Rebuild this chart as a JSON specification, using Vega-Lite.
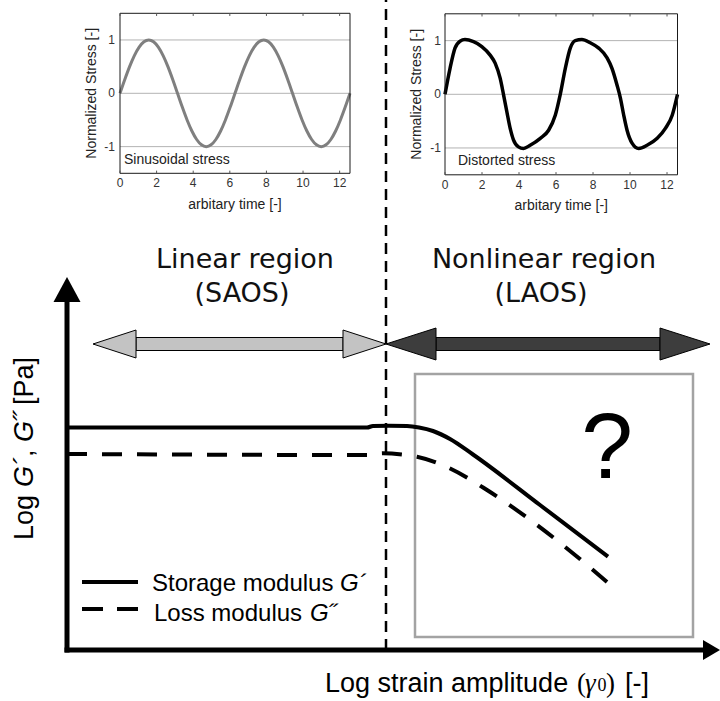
{
"$schema": "https://vega.github.io/schema/vega-lite/v6.json",
"width": 720, "height": 701, "padding": 0, "autosize": {"type": "none"},
"background": "#ffffff",
"config": {"view": {"stroke": null}},
"datasets": {
"sine": [
{"t":0,"s":0},{"t":0.262,"s":0.259},{"t":0.524,"s":0.5},{"t":0.785,"s":0.707},{"t":1.047,"s":0.866},{"t":1.309,"s":0.966},{"t":1.571,"s":1},{"t":1.833,"s":0.966},{"t":2.094,"s":0.866},{"t":2.356,"s":0.707},{"t":2.618,"s":0.5},{"t":2.88,"s":0.259},{"t":3.142,"s":0},{"t":3.403,"s":-0.259},{"t":3.665,"s":-0.5},{"t":3.927,"s":-0.707},{"t":4.189,"s":-0.866},{"t":4.451,"s":-0.966},{"t":4.712,"s":-1},{"t":4.974,"s":-0.966},{"t":5.236,"s":-0.866},{"t":5.498,"s":-0.707},{"t":5.76,"s":-0.5},{"t":6.021,"s":-0.259},{"t":6.283,"s":0},{"t":6.545,"s":0.259},{"t":6.807,"s":0.5},{"t":7.069,"s":0.707},{"t":7.33,"s":0.866},{"t":7.592,"s":0.966},{"t":7.854,"s":1},{"t":8.116,"s":0.966},{"t":8.378,"s":0.866},{"t":8.639,"s":0.707},{"t":8.901,"s":0.5},{"t":9.163,"s":0.259},{"t":9.425,"s":0},{"t":9.687,"s":-0.259},{"t":9.948,"s":-0.5},{"t":10.21,"s":-0.707},{"t":10.472,"s":-0.866},{"t":10.734,"s":-0.966},{"t":10.996,"s":-1},{"t":11.257,"s":-0.966},{"t":11.519,"s":-0.866},{"t":11.781,"s":-0.707},{"t":12.043,"s":-0.5},{"t":12.305,"s":-0.259},{"t":12.566,"s":0}
],
"distorted": [
{"t":0,"s":0},{"t":0.27,"s":0.48},{"t":0.54,"s":0.86},{"t":0.81,"s":0.99},{"t":1.08,"s":1.02},{"t":1.54,"s":0.98},{"t":1.99,"s":0.89},{"t":2.44,"s":0.73},{"t":2.71,"s":0.58},{"t":2.98,"s":0.3},{"t":3.16,"s":0},{"t":3.34,"s":-0.32},{"t":3.52,"s":-0.63},{"t":3.7,"s":-0.85},{"t":3.97,"s":-0.98},{"t":4.24,"s":-1.01},{"t":4.6,"s":-0.95},{"t":5.15,"s":-0.82},{"t":5.6,"s":-0.67},{"t":5.96,"s":-0.39},{"t":6.23,"s":0},{"t":6.5,"s":0.48},{"t":6.77,"s":0.86},{"t":7.04,"s":1.0},{"t":7.4,"s":1.02},{"t":7.85,"s":0.96},{"t":8.31,"s":0.86},{"t":8.76,"s":0.68},{"t":9.03,"s":0.48},{"t":9.3,"s":0.17},{"t":9.48,"s":-0.07},{"t":9.66,"s":-0.39},{"t":9.84,"s":-0.67},{"t":10.11,"s":-0.91},{"t":10.47,"s":-1.01},{"t":10.92,"s":-0.95},{"t":11.47,"s":-0.82},{"t":11.92,"s":-0.63},{"t":12.28,"s":-0.39},{"t":12.566,"s":0}
],
"xticks": [{"t":0,"label":"0"},{"t":2,"label":"2"},{"t":4,"label":"4"},{"t":6,"label":"6"},{"t":8,"label":"8"},{"t":10,"label":"10"},{"t":12,"label":"12"}],
"yticks": [{"s":-1,"label":"-1"},{"s":0,"label":"0"},{"s":1,"label":"1"}],
"moduli": [
{"modulus":"storage","x":0,"y":222.5},{"modulus":"storage","x":300,"y":222.5},{"modulus":"storage","x":306,"y":224},{"modulus":"storage","x":322,"y":224.3},{"modulus":"storage","x":340,"y":224},{"modulus":"storage","x":352,"y":222.5},{"modulus":"storage","x":366,"y":219},{"modulus":"storage","x":383,"y":211},{"modulus":"storage","x":406,"y":195.5},{"modulus":"storage","x":473,"y":145},{"modulus":"storage","x":541,"y":93.3},
{"modulus":"loss","x":0,"y":196},{"modulus":"loss","x":300,"y":195},{"modulus":"loss","x":316,"y":196.7},{"modulus":"loss","x":335,"y":195.5},{"modulus":"loss","x":350,"y":193.3},{"modulus":"loss","x":380,"y":183},{"modulus":"loss","x":420,"y":160},{"modulus":"loss","x":466,"y":128},{"modulus":"loss","x":526,"y":80},{"modulus":"loss","x":540,"y":68}
]
},
"resolve": {"scale": {"x": "independent", "y": "independent"}},
"layer": [
{
"layer": [
{"data":{"values":[{"x1":348,"x2":626,"y1":13,"y2":276}]},
 "mark":{"type":"rect","filled":false,"stroke":"#a3a3a3","strokeWidth":2.5},
 "encoding":{"x":{"field":"x1","type":"quantitative","scale":{"domain":[0,650],"range":[67,717],"nice":false,"zero":false},"axis":null},"x2":{"field":"x2"},
 "y":{"field":"y1","type":"quantitative","scale":{"domain":[0,650],"range":[650,0],"nice":false,"zero":false},"axis":null},"y2":{"field":"y2"}}},
{"data":{"values":[{"x":319,"y1":0,"y2":650}]},
 "mark":{"type":"rule","strokeDash":[11,7],"strokeWidth":2.5,"color":"#000000"},
 "encoding":{"x":{"field":"x","type":"quantitative","scale":{"domain":[0,650],"range":[67,717],"nice":false,"zero":false},"axis":null},
 "y":{"field":"y1","type":"quantitative","scale":{"domain":[0,650],"range":[650,0],"nice":false,"zero":false},"axis":null},"y2":{"field":"y2"}}},
{"data":{"name":"moduli"},"transform":[{"filter":"datum.modulus == 'storage'"}],
 "mark":{"type":"line","color":"#000000","strokeWidth":4,"interpolate":"monotone"},
 "encoding":{"x":{"field":"x","type":"quantitative","scale":{"domain":[0,650],"range":[67,717],"nice":false,"zero":false},"axis":null},
 "y":{"field":"y","type":"quantitative","scale":{"domain":[0,650],"range":[650,0],"nice":false,"zero":false},"axis":null}}},
{"data":{"name":"moduli"},"transform":[{"filter":"datum.modulus == 'loss'"}],
 "mark":{"type":"line","color":"#000000","strokeWidth":4,"interpolate":"monotone","strokeDash":[20,15]},
 "encoding":{"x":{"field":"x","type":"quantitative","scale":{"domain":[0,650],"range":[67,717],"nice":false,"zero":false},"axis":null},
 "y":{"field":"y","type":"quantitative","scale":{"domain":[0,650],"range":[650,0],"nice":false,"zero":false},"axis":null}}},
{"data":{"values":[{"modulus":"storage","x1":15,"x2":71,"y":68}]},
 "mark":{"type":"rule","color":"#000000","strokeWidth":4},
 "encoding":{"x":{"field":"x1","type":"quantitative","scale":{"domain":[0,650],"range":[67,717],"nice":false,"zero":false},"axis":null},"x2":{"field":"x2"},
 "y":{"field":"y","type":"quantitative","scale":{"domain":[0,650],"range":[650,0],"nice":false,"zero":false},"axis":null}}},
{"data":{"values":[{"modulus":"loss","x1":15,"x2":71,"y":41}]},
 "mark":{"type":"rule","color":"#000000","strokeWidth":4,"strokeDash":[21,14]},
 "encoding":{"x":{"field":"x1","type":"quantitative","scale":{"domain":[0,650],"range":[67,717],"nice":false,"zero":false},"axis":null},"x2":{"field":"x2"},
 "y":{"field":"y","type":"quantitative","scale":{"domain":[0,650],"range":[650,0],"nice":false,"zero":false},"axis":null}}},
{"data":{"values":[{"text":"Storage modulus","x":85,"y":59},{"text":"Loss modulus","x":87,"y":29}]},
 "mark":{"type":"text","font":"Liberation Sans","fontSize":24,"align":"left","baseline":"alphabetic","color":"#000000"},
 "encoding":{"x":{"field":"x","type":"quantitative","scale":{"domain":[0,650],"range":[67,717],"nice":false,"zero":false},"axis":null},
 "y":{"field":"y","type":"quantitative","scale":{"domain":[0,650],"range":[650,0],"nice":false,"zero":false},"axis":null},"text":{"field":"text"}}},
{"data":{"values":[{"text":"G´","x":273,"y":59},{"text":"G˝","x":243,"y":29}]},
 "mark":{"type":"text","font":"Liberation Sans","fontStyle":"italic","fontSize":24,"align":"left","baseline":"alphabetic","color":"#000000"},
 "encoding":{"x":{"field":"x","type":"quantitative","scale":{"domain":[0,650],"range":[67,717],"nice":false,"zero":false},"axis":null},
 "y":{"field":"y","type":"quantitative","scale":{"domain":[0,650],"range":[650,0],"nice":false,"zero":false},"axis":null},"text":{"field":"text"}}},
{"data":{"values":[{"x1":0,"y1":0,"x2":0,"y2":352},{"x1":0,"y1":0,"x2":638,"y2":0}]},
 "mark":{"type":"rule","color":"#000000","strokeWidth":5,"strokeCap":"square"},
 "encoding":{"x":{"field":"x1","type":"quantitative","scale":{"domain":[0,650],"range":[67,717],"nice":false,"zero":false},"axis":null},"x2":{"field":"x2"},
 "y":{"field":"y1","type":"quantitative","scale":{"domain":[0,650],"range":[650,0],"nice":false,"zero":false},"axis":null},"y2":{"field":"y2"}}},
{"data":{"values":[{"ax":-13.5,"ay":348,"ab":348},{"ax":0,"ay":373,"ab":348},{"ax":13.5,"ay":348,"ab":348}]},
 "mark":{"type":"area","orient":"vertical","color":"#000000","interpolate":"linear"},
 "encoding":{"x":{"field":"ax","type":"quantitative","scale":{"domain":[0,650],"range":[67,717],"nice":false,"zero":false},"axis":null},
 "y":{"field":"ay","type":"quantitative","stack":null,"scale":{"domain":[0,650],"range":[650,0],"nice":false,"zero":false},"axis":null},"y2":{"field":"ab"}}},
{"data":{"values":[{"ay":-10,"ax":636,"ab":636},{"ay":0,"ax":653,"ab":636},{"ay":10,"ax":636,"ab":636}]},
 "mark":{"type":"area","orient":"horizontal","color":"#000000","interpolate":"linear"},
 "encoding":{"x":{"field":"ax","type":"quantitative","stack":null,"scale":{"domain":[0,650],"range":[67,717],"nice":false,"zero":false},"axis":null},"x2":{"field":"ab"},
 "y":{"field":"ay","type":"quantitative","scale":{"domain":[0,650],"range":[650,0],"nice":false,"zero":false},"axis":null}}},
{"data":{"values":[{"region":"linear","x1":69,"x2":276},{"region":"nonlinear","x1":369,"x2":593}]},
 "mark":{"type":"rect","stroke":"#000000","strokeWidth":1},
 "encoding":{"x":{"field":"x1","type":"quantitative","scale":{"domain":[0,650],"range":[67,717],"nice":false,"zero":false},"axis":null},"x2":{"field":"x2"},
 "y":{"datum":299.5,"type":"quantitative","scale":{"domain":[0,650],"range":[650,0],"nice":false,"zero":false},"axis":null},"y2":{"datum":312.5},
 "color":{"field":"region","type":"nominal","scale":{"domain":["linear","nonlinear"],"range":["#c3c3c3","#3d3d3d"]},"legend":null}}},
{"data":{"values":[
 {"id":"a","region":"linear","ay":292,"ax":69,"ab":69},{"id":"a","region":"linear","ay":306,"ax":26,"ab":69},{"id":"a","region":"linear","ay":320,"ax":69,"ab":69},
 {"id":"b","region":"linear","ay":292,"ax":276,"ab":276},{"id":"b","region":"linear","ay":306,"ax":319,"ab":276},{"id":"b","region":"linear","ay":320,"ax":276,"ab":276},
 {"id":"c","region":"nonlinear","ay":290,"ax":369,"ab":369},{"id":"c","region":"nonlinear","ay":306,"ax":319,"ab":369},{"id":"c","region":"nonlinear","ay":322,"ax":369,"ab":369},
 {"id":"d","region":"nonlinear","ay":290,"ax":593,"ab":593},{"id":"d","region":"nonlinear","ay":306,"ax":643,"ab":593},{"id":"d","region":"nonlinear","ay":322,"ax":593,"ab":593}]},
 "mark":{"type":"area","orient":"horizontal","interpolate":"linear","stroke":"#000000","strokeWidth":1},
 "encoding":{"x":{"field":"ax","type":"quantitative","stack":null,"scale":{"domain":[0,650],"range":[67,717],"nice":false,"zero":false},"axis":null},"x2":{"field":"ab"},
 "y":{"field":"ay","type":"quantitative","scale":{"domain":[0,650],"range":[650,0],"nice":false,"zero":false},"axis":null},
 "detail":{"field":"id"},
 "color":{"field":"region","type":"nominal","scale":{"domain":["linear","nonlinear"],"range":["#c3c3c3","#3d3d3d"]},"legend":null}}},
{"data":{"values":[{"text":"Linear region","x":178,"y":382},{"text":"(SAOS)","x":175,"y":348},{"text":"Nonlinear region","x":477,"y":382},{"text":"(LAOS)","x":474,"y":348}]},
 "mark":{"type":"text","font":"DejaVu Sans","fontSize":27,"align":"center","baseline":"alphabetic","color":"#111111"},
 "encoding":{"x":{"field":"x","type":"quantitative","scale":{"domain":[0,650],"range":[67,717],"nice":false,"zero":false},"axis":null},
 "y":{"field":"y","type":"quantitative","scale":{"domain":[0,650],"range":[650,0],"nice":false,"zero":false},"axis":null},"text":{"field":"text"}}},
{"data":{"values":[{"text":"?","x":540,"y":172}]},
 "mark":{"type":"text","font":"Liberation Sans","fontSize":93,"align":"center","baseline":"alphabetic","color":"#000000"},
 "encoding":{"x":{"field":"x","type":"quantitative","scale":{"domain":[0,650],"range":[67,717],"nice":false,"zero":false},"axis":null},
 "y":{"field":"y","type":"quantitative","scale":{"domain":[0,650],"range":[650,0],"nice":false,"zero":false},"axis":null},"text":{"field":"text"}}},
{"data":{"values":[{"text":"Log","x":-34,"y":110},{"text":",","x":-34,"y":193},{"text":"[Pa]","x":-34,"y":245}]},
 "mark":{"type":"text","font":"Liberation Sans","fontSize":27,"angle":270,"align":"left","baseline":"alphabetic","color":"#000000"},
 "encoding":{"x":{"field":"x","type":"quantitative","scale":{"domain":[0,650],"range":[67,717],"nice":false,"zero":false},"axis":null},
 "y":{"field":"y","type":"quantitative","scale":{"domain":[0,650],"range":[650,0],"nice":false,"zero":false},"axis":null},"text":{"field":"text"}}},
{"data":{"values":[{"text":"G´","x":-34,"y":163},{"text":"G˝","x":-34,"y":208}]},
 "mark":{"type":"text","font":"Liberation Sans","fontStyle":"italic","fontSize":27,"angle":270,"align":"left","baseline":"alphabetic","color":"#000000"},
 "encoding":{"x":{"field":"x","type":"quantitative","scale":{"domain":[0,650],"range":[67,717],"nice":false,"zero":false},"axis":null},
 "y":{"field":"y","type":"quantitative","scale":{"domain":[0,650],"range":[650,0],"nice":false,"zero":false},"axis":null},"text":{"field":"text"}}},
{"data":{"values":[{"text":"Log strain amplitude","x":258,"y":-42},{"text":"[-]","x":558,"y":-42}]},
 "mark":{"type":"text","font":"Liberation Sans","fontSize":27,"align":"left","baseline":"alphabetic","color":"#000000"},
 "encoding":{"x":{"field":"x","type":"quantitative","scale":{"domain":[0,650],"range":[67,717],"nice":false,"zero":false},"axis":null},
 "y":{"field":"y","type":"quantitative","scale":{"domain":[0,650],"range":[650,0],"nice":false,"zero":false},"axis":null},"text":{"field":"text"}}},
{"data":{"values":[{"text":"(","x":510,"y":-42},{"text":")","x":539,"y":-42}]},
 "mark":{"type":"text","font":"Liberation Serif","fontSize":27,"align":"left","baseline":"alphabetic","color":"#000000"},
 "encoding":{"x":{"field":"x","type":"quantitative","scale":{"domain":[0,650],"range":[67,717],"nice":false,"zero":false},"axis":null},
 "y":{"field":"y","type":"quantitative","scale":{"domain":[0,650],"range":[650,0],"nice":false,"zero":false},"axis":null},"text":{"field":"text"}}},
{"data":{"values":[{"text":"γ","x":518,"y":-42}]},
 "mark":{"type":"text","font":"Liberation Serif","fontStyle":"italic","fontSize":27,"align":"left","baseline":"alphabetic","color":"#000000"},
 "encoding":{"x":{"field":"x","type":"quantitative","scale":{"domain":[0,650],"range":[67,717],"nice":false,"zero":false},"axis":null},
 "y":{"field":"y","type":"quantitative","scale":{"domain":[0,650],"range":[650,0],"nice":false,"zero":false},"axis":null},"text":{"field":"text"}}},
{"data":{"values":[{"text":"0","x":530.5,"y":-41}]},
 "mark":{"type":"text","font":"Liberation Serif","fontSize":18,"align":"left","baseline":"alphabetic","color":"#000000"},
 "encoding":{"x":{"field":"x","type":"quantitative","scale":{"domain":[0,650],"range":[67,717],"nice":false,"zero":false},"axis":null},
 "y":{"field":"y","type":"quantitative","scale":{"domain":[0,650],"range":[650,0],"nice":false,"zero":false},"axis":null},"text":{"field":"text"}}}
]
},
{
"layer": [
{"data":{"name":"yticks"},"mark":{"type":"rule","color":"#b3b3b3","strokeWidth":1},
 "encoding":{"y":{"field":"s","type":"quantitative","scale":{"domain":[-1.5,1.5],"range":[173.3,13.3],"nice":false,"zero":false},"axis":null},
 "x":{"datum":0,"type":"quantitative","scale":{"domain":[0,12.566],"range":[120,350],"nice":false,"zero":false},"axis":null},"x2":{"datum":12.566}}},
{"data":{"name":"sine"},"mark":{"type":"line","color":"#7f7f7f","strokeWidth":3,"interpolate":"monotone"},
 "encoding":{"x":{"field":"t","type":"quantitative","scale":{"domain":[0,12.566],"range":[120,350],"nice":false,"zero":false},"axis":null},
 "y":{"field":"s","type":"quantitative","scale":{"domain":[-1.5,1.5],"range":[173.3,13.3],"nice":false,"zero":false},"axis":null}}},
{"data":{"values":[{}]},"mark":{"type":"rect","filled":false,"stroke":"#1a1a1a","strokeWidth":1},
 "encoding":{"x":{"datum":0,"type":"quantitative","scale":{"domain":[0,12.566],"range":[120,350],"nice":false,"zero":false},"axis":null},"x2":{"datum":12.566},
 "y":{"datum":-1.5,"type":"quantitative","scale":{"domain":[-1.5,1.5],"range":[173.3,13.3],"nice":false,"zero":false},"axis":null},"y2":{"datum":1.5}}},
{"data":{"name":"xticks"},"mark":{"type":"rule","color":"#555555","strokeWidth":1},
 "encoding":{"x":{"field":"t","type":"quantitative","scale":{"domain":[0,12.566],"range":[120,350],"nice":false,"zero":false},"axis":null},
 "y":{"datum":-1.5,"type":"quantitative","scale":{"domain":[-1.5,1.5],"range":[173.3,13.3],"nice":false,"zero":false},"axis":null},"y2":{"datum":-1.45}}},
{"data":{"name":"xticks"},"mark":{"type":"rule","color":"#555555","strokeWidth":1},
 "encoding":{"x":{"field":"t","type":"quantitative","scale":{"domain":[0,12.566],"range":[120,350],"nice":false,"zero":false},"axis":null},
 "y":{"datum":1.5,"type":"quantitative","scale":{"domain":[-1.5,1.5],"range":[173.3,13.3],"nice":false,"zero":false},"axis":null},"y2":{"datum":1.45}}},
{"data":{"name":"xticks"},"mark":{"type":"text","font":"Liberation Sans","fontSize":12,"color":"#333333","dy":10,"baseline":"middle","align":"center"},
 "encoding":{"x":{"field":"t","type":"quantitative","scale":{"domain":[0,12.566],"range":[120,350],"nice":false,"zero":false},"axis":null},
 "y":{"datum":-1.5,"type":"quantitative","scale":{"domain":[-1.5,1.5],"range":[173.3,13.3],"nice":false,"zero":false},"axis":null},"text":{"field":"label"}}},
{"data":{"name":"yticks"},"mark":{"type":"text","font":"Liberation Sans","fontSize":12,"color":"#333333","dx":-5,"baseline":"middle","align":"right"},
 "encoding":{"x":{"datum":0,"type":"quantitative","scale":{"domain":[0,12.566],"range":[120,350],"nice":false,"zero":false},"axis":null},
 "y":{"field":"s","type":"quantitative","scale":{"domain":[-1.5,1.5],"range":[173.3,13.3],"nice":false,"zero":false},"axis":null},"text":{"field":"label"}}},
{"data":{"values":[{"text":"arbitary time [-]","t":6.283,"s":-1.5}]},"mark":{"type":"text","font":"Liberation Sans","fontSize":14,"color":"#222222","dy":32,"baseline":"middle","align":"center"},
 "encoding":{"x":{"field":"t","type":"quantitative","scale":{"domain":[0,12.566],"range":[120,350],"nice":false,"zero":false},"axis":null},
 "y":{"field":"s","type":"quantitative","scale":{"domain":[-1.5,1.5],"range":[173.3,13.3],"nice":false,"zero":false},"axis":null},"text":{"field":"text"}}},
{"data":{"values":[{"text":"Normalized Stress [-]","t":0,"s":0}]},"mark":{"type":"text","font":"Liberation Sans","fontSize":14,"color":"#222222","angle":270,"dy":-28,"baseline":"middle","align":"center"},
 "encoding":{"x":{"field":"t","type":"quantitative","scale":{"domain":[0,12.566],"range":[120,350],"nice":false,"zero":false},"axis":null},
 "y":{"field":"s","type":"quantitative","scale":{"domain":[-1.5,1.5],"range":[173.3,13.3],"nice":false,"zero":false},"axis":null},"text":{"field":"text"}}},
{"data":{"values":[{"text":"Sinusoidal stress","t":0,"s":-1.25}]},"mark":{"type":"text","font":"Liberation Sans","fontSize":14,"color":"#222222","dx":4,"baseline":"middle","align":"left"},
 "encoding":{"x":{"field":"t","type":"quantitative","scale":{"domain":[0,12.566],"range":[120,350],"nice":false,"zero":false},"axis":null},
 "y":{"field":"s","type":"quantitative","scale":{"domain":[-1.5,1.5],"range":[173.3,13.3],"nice":false,"zero":false},"axis":null},"text":{"field":"text"}}}
]
},
{
"layer": [
{"data":{"name":"yticks"},"mark":{"type":"rule","color":"#b3b3b3","strokeWidth":1},
 "encoding":{"y":{"field":"s","type":"quantitative","scale":{"domain":[-1.5,1.5],"range":[174.8,13.8],"nice":false,"zero":false},"axis":null},
 "x":{"datum":0,"type":"quantitative","scale":{"domain":[0,12.566],"range":[445,677.5],"nice":false,"zero":false},"axis":null},"x2":{"datum":12.566}}},
{"data":{"name":"distorted"},"mark":{"type":"line","color":"#000000","strokeWidth":3.5,"interpolate":"monotone"},
 "encoding":{"x":{"field":"t","type":"quantitative","scale":{"domain":[0,12.566],"range":[445,677.5],"nice":false,"zero":false},"axis":null},
 "y":{"field":"s","type":"quantitative","scale":{"domain":[-1.5,1.5],"range":[174.8,13.8],"nice":false,"zero":false},"axis":null}}},
{"data":{"values":[{}]},"mark":{"type":"rect","filled":false,"stroke":"#1a1a1a","strokeWidth":1},
 "encoding":{"x":{"datum":0,"type":"quantitative","scale":{"domain":[0,12.566],"range":[445,677.5],"nice":false,"zero":false},"axis":null},"x2":{"datum":12.566},
 "y":{"datum":-1.5,"type":"quantitative","scale":{"domain":[-1.5,1.5],"range":[174.8,13.8],"nice":false,"zero":false},"axis":null},"y2":{"datum":1.5}}},
{"data":{"name":"xticks"},"mark":{"type":"rule","color":"#555555","strokeWidth":1},
 "encoding":{"x":{"field":"t","type":"quantitative","scale":{"domain":[0,12.566],"range":[445,677.5],"nice":false,"zero":false},"axis":null},
 "y":{"datum":-1.5,"type":"quantitative","scale":{"domain":[-1.5,1.5],"range":[174.8,13.8],"nice":false,"zero":false},"axis":null},"y2":{"datum":-1.45}}},
{"data":{"name":"xticks"},"mark":{"type":"rule","color":"#555555","strokeWidth":1},
 "encoding":{"x":{"field":"t","type":"quantitative","scale":{"domain":[0,12.566],"range":[445,677.5],"nice":false,"zero":false},"axis":null},
 "y":{"datum":1.5,"type":"quantitative","scale":{"domain":[-1.5,1.5],"range":[174.8,13.8],"nice":false,"zero":false},"axis":null},"y2":{"datum":1.45}}},
{"data":{"name":"xticks"},"mark":{"type":"text","font":"Liberation Sans","fontSize":12,"color":"#333333","dy":10,"baseline":"middle","align":"center"},
 "encoding":{"x":{"field":"t","type":"quantitative","scale":{"domain":[0,12.566],"range":[445,677.5],"nice":false,"zero":false},"axis":null},
 "y":{"datum":-1.5,"type":"quantitative","scale":{"domain":[-1.5,1.5],"range":[174.8,13.8],"nice":false,"zero":false},"axis":null},"text":{"field":"label"}}},
{"data":{"name":"yticks"},"mark":{"type":"text","font":"Liberation Sans","fontSize":12,"color":"#333333","dx":-4,"baseline":"middle","align":"right"},
 "encoding":{"x":{"datum":0,"type":"quantitative","scale":{"domain":[0,12.566],"range":[445,677.5],"nice":false,"zero":false},"axis":null},
 "y":{"field":"s","type":"quantitative","scale":{"domain":[-1.5,1.5],"range":[174.8,13.8],"nice":false,"zero":false},"axis":null},"text":{"field":"label"}}},
{"data":{"values":[{"text":"arbitary time [-]","t":6.283,"s":-1.5}]},"mark":{"type":"text","font":"Liberation Sans","fontSize":14,"color":"#222222","dy":31,"baseline":"middle","align":"center"},
 "encoding":{"x":{"field":"t","type":"quantitative","scale":{"domain":[0,12.566],"range":[445,677.5],"nice":false,"zero":false},"axis":null},
 "y":{"field":"s","type":"quantitative","scale":{"domain":[-1.5,1.5],"range":[174.8,13.8],"nice":false,"zero":false},"axis":null},"text":{"field":"text"}}},
{"data":{"values":[{"text":"Normalized Stress [-]","t":0,"s":0}]},"mark":{"type":"text","font":"Liberation Sans","fontSize":14,"color":"#222222","angle":270,"dy":-28,"baseline":"middle","align":"center"},
 "encoding":{"x":{"field":"t","type":"quantitative","scale":{"domain":[0,12.566],"range":[445,677.5],"nice":false,"zero":false},"axis":null},
 "y":{"field":"s","type":"quantitative","scale":{"domain":[-1.5,1.5],"range":[174.8,13.8],"nice":false,"zero":false},"axis":null},"text":{"field":"text"}}},
{"data":{"values":[{"text":"Distorted stress","t":0,"s":-1.25}]},"mark":{"type":"text","font":"Liberation Sans","fontSize":14,"color":"#222222","dx":13,"baseline":"middle","align":"left"},
 "encoding":{"x":{"field":"t","type":"quantitative","scale":{"domain":[0,12.566],"range":[445,677.5],"nice":false,"zero":false},"axis":null},
 "y":{"field":"s","type":"quantitative","scale":{"domain":[-1.5,1.5],"range":[174.8,13.8],"nice":false,"zero":false},"axis":null},"text":{"field":"text"}}}
]
}
]
}
